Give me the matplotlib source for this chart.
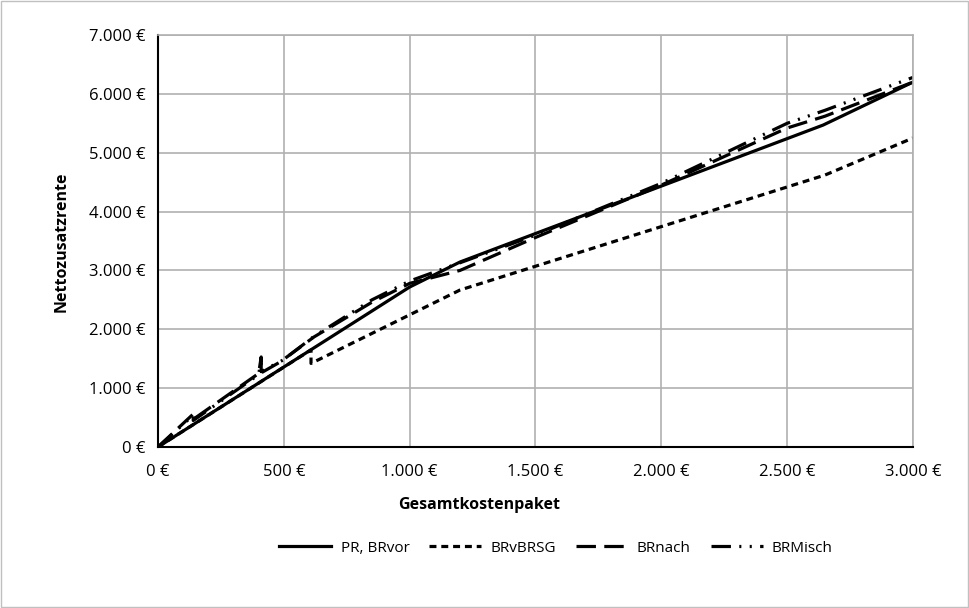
import matplotlib
matplotlib.use("Agg")
import matplotlib.pyplot as plt
from matplotlib.ticker import FuncFormatter

plt.rcParams["font.family"] = ["Open Sans", "DejaVu Sans"]
plt.rcParams["lines.scale_dashes"] = False

# PR, BRvor
pr_x = [0, 1000, 1200, 2643, 3000]
pr_y = [0, 2718, 3143, 5470, 6200]

# BRvBRSG
brsg_x = [0, 608, 608, 1200, 2650, 3000]
brsg_y = [0, 1650, 1420, 2667, 4620, 5250]

# BRnach
nach_x = [0, 140, 140, 400, 410, 410, 485, 620, 850, 1000, 1200, 1500, 2000, 2500, 2650, 3000]
nach_y = [0, 560, 470, 1250, 1530, 1260, 1444, 1870, 2460, 2780, 3000, 3560, 4450, 5420, 5620, 6200]

# BRMisch
misch_x = [0, 140, 140, 400, 410, 410, 497, 620, 850, 1000, 1200, 1500, 2000, 2500, 2650, 3000]
misch_y = [0, 540, 450, 1230, 1500, 1280, 1478, 1880, 2500, 2820, 3130, 3600, 4480, 5500, 5720, 6280]

x_ticks = [0, 500, 1000, 1500, 2000, 2500, 3000]
y_ticks = [0, 1000, 2000, 3000, 4000, 5000, 6000, 7000]


def euro(v, pos=None):
    return f"{int(v):,} €".replace(",", ".")


fig = plt.figure(figsize=(9.69, 6.08), dpi=100)
ax = fig.add_axes([158 / 969, 1 - 447 / 608, 755 / 969, 412 / 608])

lw = 2.3
ax.plot(pr_x, pr_y, color="black", linewidth=lw, label="PR, BRvor")
ax.plot(brsg_x, brsg_y, color="black", linewidth=lw, dashes=(5, 3.5), label="BRvBRSG")
ax.plot(nach_x, nach_y, color="black", linewidth=lw, dashes=(14, 6), label="BRnach")
ax.plot(misch_x, misch_y, color="black", linewidth=lw,
        dashes=(14, 6, 1.5, 6, 1.5, 6), label="BRMisch")

ax.set_xlim(0, 3000)
ax.set_ylim(0, 7000)
ax.set_xticks(x_ticks)
ax.set_yticks(y_ticks)
ax.xaxis.set_major_formatter(FuncFormatter(euro))
ax.yaxis.set_major_formatter(FuncFormatter(euro))
ax.tick_params(length=0, labelsize=12)
ax.tick_params(axis="x", pad=12)
ax.tick_params(axis="y", pad=9)
ax.grid(True, color="#b0b0b0", linewidth=1.2)
ax.set_axisbelow(True)
for side in ("top", "right"):
    ax.spines[side].set_color("#b0b0b0")
    ax.spines[side].set_linewidth(1.2)
for side in ("left", "bottom"):
    ax.spines[side].set_color("black")
    ax.spines[side].set_linewidth(1.5)

# axis titles (x title is centred on the whole chart, as in the source)
fig.text(479 / 969, 1 - 505 / 608, "Gesamtkostenpaket", fontsize=11.5,
         fontweight="bold", ha="center", va="center")
fig.text(62 / 969, 1 - 242 / 608, "Nettozusatzrente", fontsize=11.5,
         fontweight="bold", ha="center", va="center", rotation=90)

fig.legend(loc="center", bbox_to_anchor=(556 / 969, 1 - 548 / 608), ncol=4,
           frameon=False, fontsize=11, handlelength=3.4, columnspacing=1.3,
           handletextpad=0.6)

# outer border of the chart area
fig.patches.append(plt.Rectangle((0.001, 0.001), 0.998, 0.998, transform=fig.transFigure,
                                 fill=False, edgecolor="#c0c0c0", linewidth=1))

fig.savefig("out.png", dpi=100)
